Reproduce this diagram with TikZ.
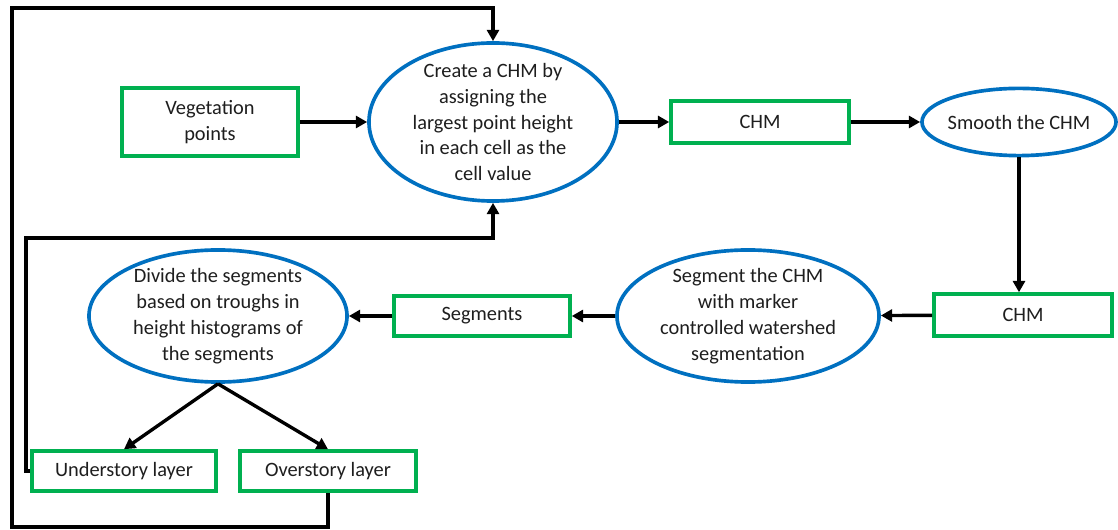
\documentclass[tikz,border=0pt]{standalone}
\usepackage{fontspec}
\setmainfont{Carlito}
\usepackage{tikz}
\usetikzlibrary{arrows.meta,shapes,positioning}
\definecolor{flowblue}{RGB}{0,112,192}
\definecolor{flowgreen}{RGB}{0,176,80}
\definecolor{flowtext}{RGB}{30,30,30}
\tikzstyle{arrow} = [line width=2.4pt,-{Triangle[length=8pt,width=8.5pt]},color=black]
\tikzstyle{dataset} = [rectangle, line width=2.5pt, draw=flowgreen, fill=white, text centered, align=center, inner sep=0pt]
\tikzstyle{process} = [ellipse, line width=2.6pt, draw=flowblue, fill=white, inner sep=0pt]
\tikzstyle{ptext} = [align=center, text=flowtext, inner sep=0pt]

\begin{document}
\begin{tikzpicture}[x=0.025cm, y=-0.025cm, font=\fontsize{14.5}{18.4}\selectfont, text=flowtext]
    \useasboundingbox (0,0) rectangle (1118,530);

    \node[dataset, minimum width=4.4cm, minimum height=1.7cm] (veg) at (210,122) {Vegetation\\points};
    \node[process, minimum width=6.2cm, minimum height=3.95cm,
          label={[ptext]center:Create a CHM by\\assigning the\\largest point height\\in each cell as the\\cell value}] (create) at (493,122) {};
    \node[dataset, minimum width=4.45cm, minimum height=1.05cm] (chma) at (760,122) {CHM};
    \node[process, minimum width=4.85cm, minimum height=1.68cm,
          label={[ptext]center:Smooth the CHM}] (smooth) at (1019,122) {};
    \node[dataset, minimum width=4.45cm, minimum height=1.05cm] (chmb) at (1023,315) {CHM};
    \node[process, minimum width=6.55cm, minimum height=3.3cm,
          label={[ptext]center:Segment the CHM\\with marker\\controlled watershed\\segmentation}] (segment) at (748,316) {};
    \node[dataset, minimum width=4.4cm, minimum height=1.0cm] (segs) at (482,316) {Segments};
    \node[process, minimum width=6.45cm, minimum height=3.3cm,
          label={[ptext]center:Divide the segments\\based on troughs in\\height histograms of\\the segments}] (divide) at (218,316) {};
    \node[dataset, minimum width=4.6cm, minimum height=1.0cm] (under) at (124,471) {Understory layer};
    \node[dataset, minimum width=4.4cm, minimum height=1.0cm] (over) at (328,471) {Overstory layer};

    \coordinate (loopa) at (26,238);
    \coordinate (loopb) at (12,527);
    \coordinate (loopc) at (12,8);

    \draw[arrow] (veg) -- (create);
    \draw[arrow] (create) -- (chma);
    \draw[arrow] (chma) -- (smooth);
    \draw[arrow] (smooth.south) -- (smooth.south |- chmb.north);
    \draw[arrow] (chmb) -- (segment);
    \draw[arrow] (segment) -- (segs);
    \draw[arrow] (segs) -- (divide);
    \draw[arrow] (divide.south) -- (under.north);
    \draw[arrow] (divide.south) -- (over.north);

    % loops back to the CHM step
    \draw[arrow] (under.west) -| (loopa) -| (create.south);
    \draw[arrow] (over.south) |- (loopb) -- (loopc) -| (create.north);
\end{tikzpicture}
\end{document}
